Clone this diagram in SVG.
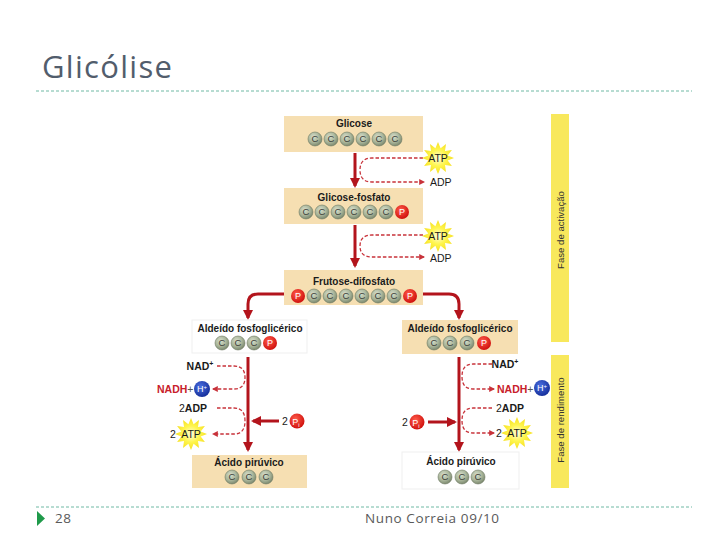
<svg xmlns="http://www.w3.org/2000/svg" width="728" height="546" viewBox="0 0 728 546">
<style>
.t{font-family:"Liberation Sans",Arial,sans-serif}
.title{font-family:"Open Sans","Liberation Sans",sans-serif;font-size:31px;fill:#525d6c;letter-spacing:1.3px}
.foot{font-family:"Open Sans","Liberation Sans",sans-serif;font-size:13.5px;fill:#5a5a5a;letter-spacing:0.6px}
.rule{stroke:#6fb9a4;stroke-width:1;stroke-dasharray:3,2;fill:none}
.box{fill:#f6dfb2}
.wbox{fill:#ffffff;stroke:#efefef;stroke-width:1}
.lbl{font-family:"Liberation Sans",Arial,sans-serif;font-size:10px;font-weight:bold;fill:#1a1a1a;text-anchor:middle}
.cl{font-family:"Liberation Sans",Arial,sans-serif;font-size:9.5px;fill:#3c3f38;text-anchor:middle}
.pl{font-family:"Liberation Sans",Arial,sans-serif;font-size:9px;fill:#ffffff;text-anchor:middle}
.sm{font-family:"Liberation Sans",Arial,sans-serif;font-size:10.5px;fill:#1a1a1a}
.bd{font-weight:bold}
.red{fill:#c8202a}
.main{stroke:#b3141c;stroke-width:3;fill:none}
.dash{stroke:#c8323a;stroke-width:1.3;stroke-dasharray:3.5,2;fill:none}
.bar{fill:#f8e85c}
.vt{font-family:"Liberation Sans",Arial,sans-serif;font-size:9.6px;fill:#333;text-anchor:middle}
</style>
<defs>
<radialGradient id="cg" cx="40%" cy="35%" r="65%">
<stop offset="0" stop-color="#d8dfcc"/>
<stop offset="0.6" stop-color="#a9b59a"/>
<stop offset="1" stop-color="#7d8a70"/>
</radialGradient>
<radialGradient id="pg" cx="40%" cy="35%" r="65%">
<stop offset="0" stop-color="#ff5a4a"/>
<stop offset="1" stop-color="#d0120e"/>
</radialGradient>
<radialGradient id="hg" cx="40%" cy="35%" r="65%">
<stop offset="0" stop-color="#4a6ee0"/>
<stop offset="1" stop-color="#16309c"/>
</radialGradient>
<radialGradient id="sg" cx="50%" cy="50%" r="50%">
<stop offset="0" stop-color="#fffde0"/>
<stop offset="0.5" stop-color="#fff650"/>
<stop offset="1" stop-color="#f6e020"/>
</radialGradient>
<marker id="ah" viewBox="0 0 10 10" refX="8" refY="5" markerWidth="10" markerHeight="10" markerUnits="userSpaceOnUse" orient="auto">
<path d="M0,0 L10,5 L0,10 z" fill="#b3141c"/>
</marker>
<marker id="dh" viewBox="0 0 10 10" refX="8" refY="5" markerWidth="6" markerHeight="6" markerUnits="userSpaceOnUse" orient="auto">
<path d="M0,0 L10,5 L0,10 z" fill="#c8323a"/>
</marker>
<g id="c"><circle r="7" fill="url(#cg)" stroke="#6f7b63" stroke-width="0.6"/><text y="3.4" class="cl">C</text></g>
<g id="p"><circle r="7" fill="url(#pg)"/><text y="3.2" class="pl">P</text></g>
<g id="star"><polygon fill="url(#sg)" points="16,0 9.7,2.6 13.9,8 7,7 8,13.9 2.6,9.7 0,16 -2.6,9.7 -8,13.9 -7,7 -13.9,8 -9.7,2.6 -16,0 -9.7,-2.6 -13.9,-8 -7,-7 -8,-13.9 -2.6,-9.7 0,-16 2.6,-9.7 8,-13.9 7,-7 13.9,-8 9.7,-2.6"/></g>
</defs>

<rect width="728" height="546" fill="#ffffff"/>

<text x="42" y="78" class="title">Glicólise</text>
<line x1="36" y1="91" x2="692" y2="91" class="rule"/>
<line x1="36" y1="507" x2="692" y2="507" class="rule"/>
<polygon points="37,511 45,518.5 37,526" fill="#1f9a4a"/>
<text x="55" y="523" class="foot">28</text>
<text x="365" y="523" class="foot">Nuno Correia 09/10</text>

<g id="phase-bars">
<rect x="551" y="114" width="18" height="228" class="bar"/>
<rect x="551" y="355" width="18" height="133" class="bar"/>
<text transform="translate(563.5,230) rotate(-90)" class="vt">Fase de activação</text>
<text transform="translate(563.5,420) rotate(-90)" class="vt">Fase de rendimento</text>
</g>

<g id="connectors">
<line x1="355" y1="153" x2="355" y2="186" class="main" marker-end="url(#ah)"/>
<line x1="355" y1="225" x2="355" y2="266" class="main" marker-end="url(#ah)"/>
<path d="M284,294 H258 Q248,294 248,304 V318" class="main" marker-end="url(#ah)"/>
<path d="M423,294 H449 Q459,294 459,304 V318" class="main" marker-end="url(#ah)"/>
<line x1="248" y1="357" x2="248" y2="450" class="main" marker-end="url(#ah)"/>
<line x1="459" y1="357" x2="459" y2="450" class="main" marker-end="url(#ah)"/>
<line x1="279" y1="421" x2="253" y2="421" class="main" stroke-width="2.5" marker-end="url(#ah)"/>
<line x1="428" y1="422" x2="455" y2="422" class="main" stroke-width="2.5" marker-end="url(#ah)"/>
<path d="M423,158 H372 Q360,158 360,170 Q360,182 372,182 H424" class="dash" marker-end="url(#dh)"/>
<path d="M423,235 H372 Q360,235 360,246 Q360,257 372,257 H424" class="dash" marker-end="url(#dh)"/>
<path d="M217,366 H234 Q245,366 245,377.5 Q245,389 234,389 H213" class="dash" marker-end="url(#dh)"/>
<path d="M217,408 H234 Q245,408 245,421 Q245,434 234,434 H213" class="dash" marker-end="url(#dh)"/>
<path d="M492,364 H473 Q462,364 462,376.5 Q462,389 473,389 H494" class="dash" marker-end="url(#dh)"/>
<path d="M492,408 H473 Q462,408 462,420.5 Q462,433 473,433 H494" class="dash" marker-end="url(#dh)"/>
</g>

<g id="glicose">
<rect x="284" y="116" width="139" height="36" class="box"/>
<text x="354" y="127" class="lbl">Glicose</text>
<use href="#c" x="315" y="139"/><use href="#c" x="331" y="139"/><use href="#c" x="347" y="139"/><use href="#c" x="363" y="139"/><use href="#c" x="379" y="139"/><use href="#c" x="395" y="139"/>
</g>

<g id="atp1">
<use href="#star" x="438" y="158"/>
<text x="438" y="161.5" class="sm" text-anchor="middle">ATP</text>
<text x="430" y="186" class="sm">ADP</text>
</g>

<g id="glicose-fosfato">
<rect x="284" y="188" width="139" height="36" class="box"/>
<text x="354" y="201" class="lbl">Glicose-fosfato</text>
<use href="#c" x="306" y="212"/><use href="#c" x="322" y="212"/><use href="#c" x="338" y="212"/><use href="#c" x="354" y="212"/><use href="#c" x="370" y="212"/><use href="#c" x="386" y="212"/><use href="#p" x="402" y="212"/>
</g>

<g id="atp2">
<use href="#star" x="438" y="236"/>
<text x="438" y="239.5" class="sm" text-anchor="middle">ATP</text>
<text x="430" y="262" class="sm">ADP</text>
</g>

<g id="frutose-difosfato">
<rect x="284" y="270" width="139" height="35" class="box"/>
<text x="354" y="284.5" class="lbl">Frutose-difosfato</text>
<use href="#p" x="298" y="296"/><use href="#c" x="314" y="296"/><use href="#c" x="330" y="296"/><use href="#c" x="346" y="296"/><use href="#c" x="362" y="296"/><use href="#c" x="378" y="296"/><use href="#c" x="394" y="296"/><use href="#p" x="410" y="296"/>
</g>

<g id="aldeido-left">
<rect x="192" y="320" width="115" height="33" class="wbox"/>
<text x="250" y="332" class="lbl">Aldeído fosfoglicérico</text>
<use href="#c" x="222" y="343"/><use href="#c" x="238" y="343"/><use href="#c" x="254" y="343"/><use href="#p" x="270" y="343"/>
</g>

<g id="aldeido-right">
<rect x="402" y="320" width="116" height="34" class="box"/>
<text x="460" y="332" class="lbl">Aldeído fosfoglicérico</text>
<use href="#c" x="434" y="343"/><use href="#c" x="450" y="343"/><use href="#c" x="467" y="343"/><use href="#p" x="484" y="343"/>
</g>

<g id="nad-left">
<text x="200" y="370" class="sm bd" text-anchor="middle">NAD<tspan dy="-4" font-size="7">+</tspan></text>
<text x="157" y="392.5" class="sm bd red">NADH<tspan fill="#555" font-weight="normal">+</tspan></text>
<circle cx="202" cy="389" r="8" fill="url(#hg)"/>
<text x="202" y="392" class="pl">H<tspan dy="-3" font-size="6">+</tspan></text>
<text x="179" y="412" class="sm">2<tspan font-weight="bold">ADP</tspan></text>
<use href="#star" x="191" y="434"/>
<text x="173" y="437.5" class="sm" text-anchor="middle">2</text>
<text x="191" y="437.5" class="sm" text-anchor="middle">ATP</text>
<text x="285" y="425" class="sm" text-anchor="middle">2</text>
<circle cx="297" cy="421" r="7.5" fill="url(#pg)"/>
<text x="296" y="424.5" class="pl">P<tspan dy="2" font-size="6">i</tspan></text>
</g>

<g id="nad-right">
<text x="505" y="368" class="sm bd" text-anchor="middle">NAD<tspan dy="-4" font-size="7">+</tspan></text>
<text x="497" y="392.5" class="sm bd red">NADH<tspan fill="#555" font-weight="normal">+</tspan></text>
<circle cx="542" cy="388" r="8" fill="url(#hg)"/>
<text x="542" y="391" class="pl">H<tspan dy="-3" font-size="6">+</tspan></text>
<text x="496" y="412" class="sm">2<tspan font-weight="bold">ADP</tspan></text>
<use href="#star" x="517" y="433"/>
<text x="499" y="436.5" class="sm" text-anchor="middle">2</text>
<text x="517" y="436.5" class="sm" text-anchor="middle">ATP</text>
<text x="405" y="426" class="sm" text-anchor="middle">2</text>
<circle cx="417" cy="422" r="7.5" fill="url(#pg)"/>
<text x="416" y="425.5" class="pl">P<tspan dy="2" font-size="6">i</tspan></text>
</g>

<g id="piruvico-left">
<rect x="192" y="455" width="115" height="33" class="box"/>
<text x="249" y="466" class="lbl">Ácido pirúvico</text>
<use href="#c" x="232" y="477"/><use href="#c" x="249" y="477"/><use href="#c" x="266" y="477"/>
</g>

<g id="piruvico-right">
<rect x="402" y="452" width="117" height="37" class="wbox"/>
<text x="461" y="465" class="lbl">Ácido pirúvico</text>
<use href="#c" x="445" y="477"/><use href="#c" x="462" y="477"/><use href="#c" x="478" y="477"/>
</g>
</svg>
